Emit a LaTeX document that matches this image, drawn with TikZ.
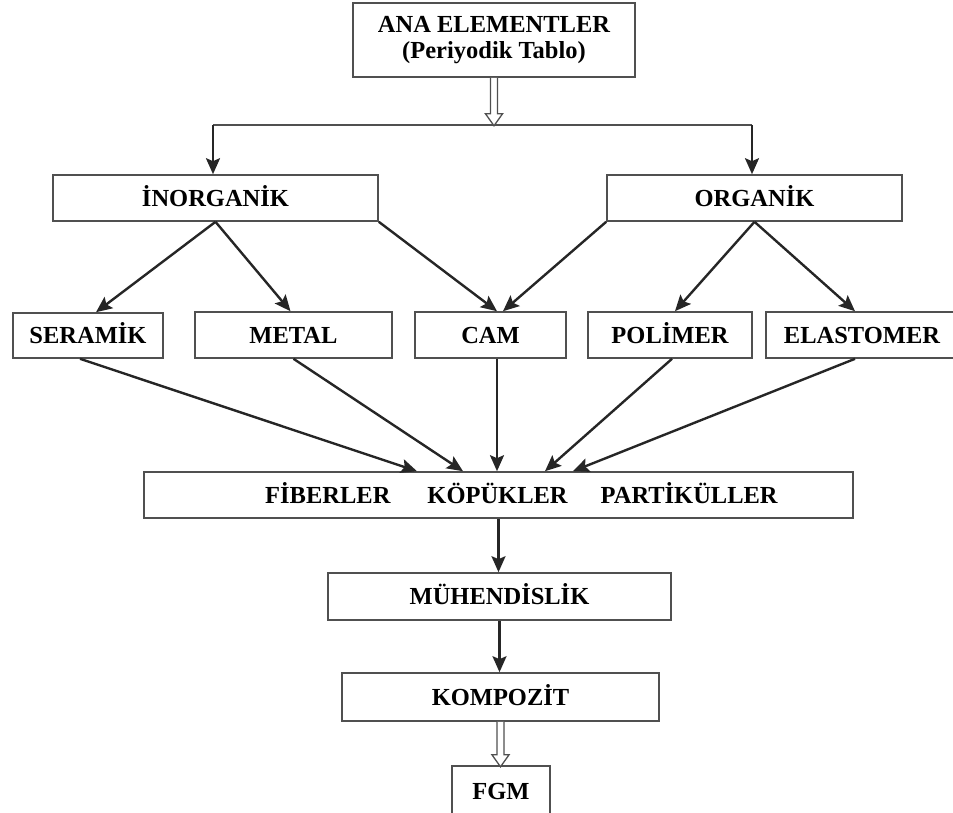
\documentclass[tikz,border=0pt]{standalone}
\usepackage{fontspec}
\setmainfont{Liberation Serif}
\usetikzlibrary{arrows.meta,calc}
\definecolor{boxgray}{HTML}{505050}
\definecolor{arrowdark}{HTML}{262626}
\begin{document}
\begin{tikzpicture}[x=1pt,y=-1pt,
  box/.style={draw=boxgray, line width=1.6pt, fill=white, inner sep=0pt,
    font=\fontsize{24.5pt}{26pt}\selectfont\bfseries, align=center},
  single/.style={text height=16.5pt, text depth=0pt},
  conn/.style={draw=arrowdark, line width=2.4pt,
    -{Stealth[length=16pt,width=14pt,inset=3pt]}},
  hline/.style={draw=boxgray, line width=1.1pt},
  hollow/.style={draw=boxgray, line width=1.3pt, fill=white, line join=miter},
  txt/.style={inner sep=0pt, font=\fontsize{24.5pt}{26pt}\selectfont\bfseries}
]
\useasboundingbox (0,0) rectangle (953,812);
\clip (0,0) rectangle (953,812);

% nodes
\node[box, minimum width=282pt, minimum height=74pt] (ana) at (494,40) {ANA ELEMENTLER\\(Periyodik Tablo)};
\node[box, single, minimum width=325pt, minimum height=46pt] (ino) at (215.5,198) {İNORGANİK};
\node[box, single, minimum width=295pt, minimum height=46pt] (org) at (754.5,198) {ORGANİK};
\node[box, single, minimum width=150pt, minimum height=45pt] (ser) at (88,335.5) {SERAMİK};
\node[box, single, minimum width=197pt, minimum height=46pt] (met) at (293.5,335) {METAL};
\node[box, single, minimum width=151pt, minimum height=46pt] (cam) at (490.5,335) {CAM};
\node[box, single, minimum width=164pt, minimum height=46pt] (pol) at (670,335) {POLİMER};
\node[box, single, minimum width=192pt, minimum height=46pt] (ela) at (862,335) {ELASTOMER};
\node[box, minimum width=709pt, minimum height=46pt] (big) at (498.5,495) {};
\node[txt, anchor=base west] (bigtxt) at (265,503) {FİBERLER\hspace{37pt}KÖPÜKLER\hspace{33pt}PARTİKÜLLER};
\node[box, single, minimum width=343pt, minimum height=47pt] (muh) at (499.5,596.5) {MÜHENDİSLİK};
\node[box, single, minimum width=317pt, minimum height=48pt] (kom) at (500.5,697) {KOMPOZİT};
\node[box, single, minimum width=98pt, minimum height=50pt] (fgm) at (501,791) {FGM};

% distribution line
\coordinate (hl) at (213,125);
\coordinate (hr) at (752,125);
\draw[hline] (hl) -- (hr);

% hollow arrow from ANA ELEMENTLER
\draw[hollow] ($(ana.south)+(-3.5,0)$) -- ++(0,36) -- ++(-5,0) -- ++(8.5,12) -- ++(8.5,-12) -- ++(-5,0) -- ++(0,-36);

% arrows to INORGANIK / ORGANIK
\draw[conn] (hl) -- (hl |- ino.north);
\draw[conn] (hr) -- (hr |- org.north);

% from INORGANIK
\draw[conn] (ino.south) -- ($(ser.north)+(8,0)$);
\draw[conn] (ino.south) -- ($(met.north)+(-3,0)$);
\draw[conn] (ino.south east) -- ($(cam.north)+(6.5,0)$);
% from ORGANIK
\draw[conn] (org.south west) -- ($(cam.north)+(12.5,0)$);
\draw[conn] (org.south) -- ($(pol.north)+(5,0)$);
\draw[conn] (org.south) -- ($(ela.north)+(-7,0)$);

% to the big box
\draw[conn] ($(ser.south)+(-8,0)$) -- ($(big.north)+(-81.5,0)$);
\draw[conn] ($(met.south)+(0,0)$) -- ($(big.north)+(-35.5,0)$);
\coordinate (camx) at ($(cam.south)+(6.5,0)$);
\draw[conn] (camx) -- (camx |- big.north);
\draw[conn] ($(pol.south)+(2,0)$) -- ($(big.north)+(46.5,0)$);
\draw[conn] ($(ela.south)+(-7,0)$) -- ($(big.north)+(74.5,0)$);

% vertical chain
\draw[conn] (big.south) -- (big.south |- muh.north);
\draw[conn] (muh.south) -- (muh.south |- kom.north);

% hollow arrow to FGM
\draw[hollow] ($(kom.south)+(-3.5,0)$) -- ++(0,33) -- ++(-5,0) -- ++(8.5,12) -- ++(8.5,-12) -- ++(-5,0) -- ++(0,-33);
\end{tikzpicture}
\end{document}
